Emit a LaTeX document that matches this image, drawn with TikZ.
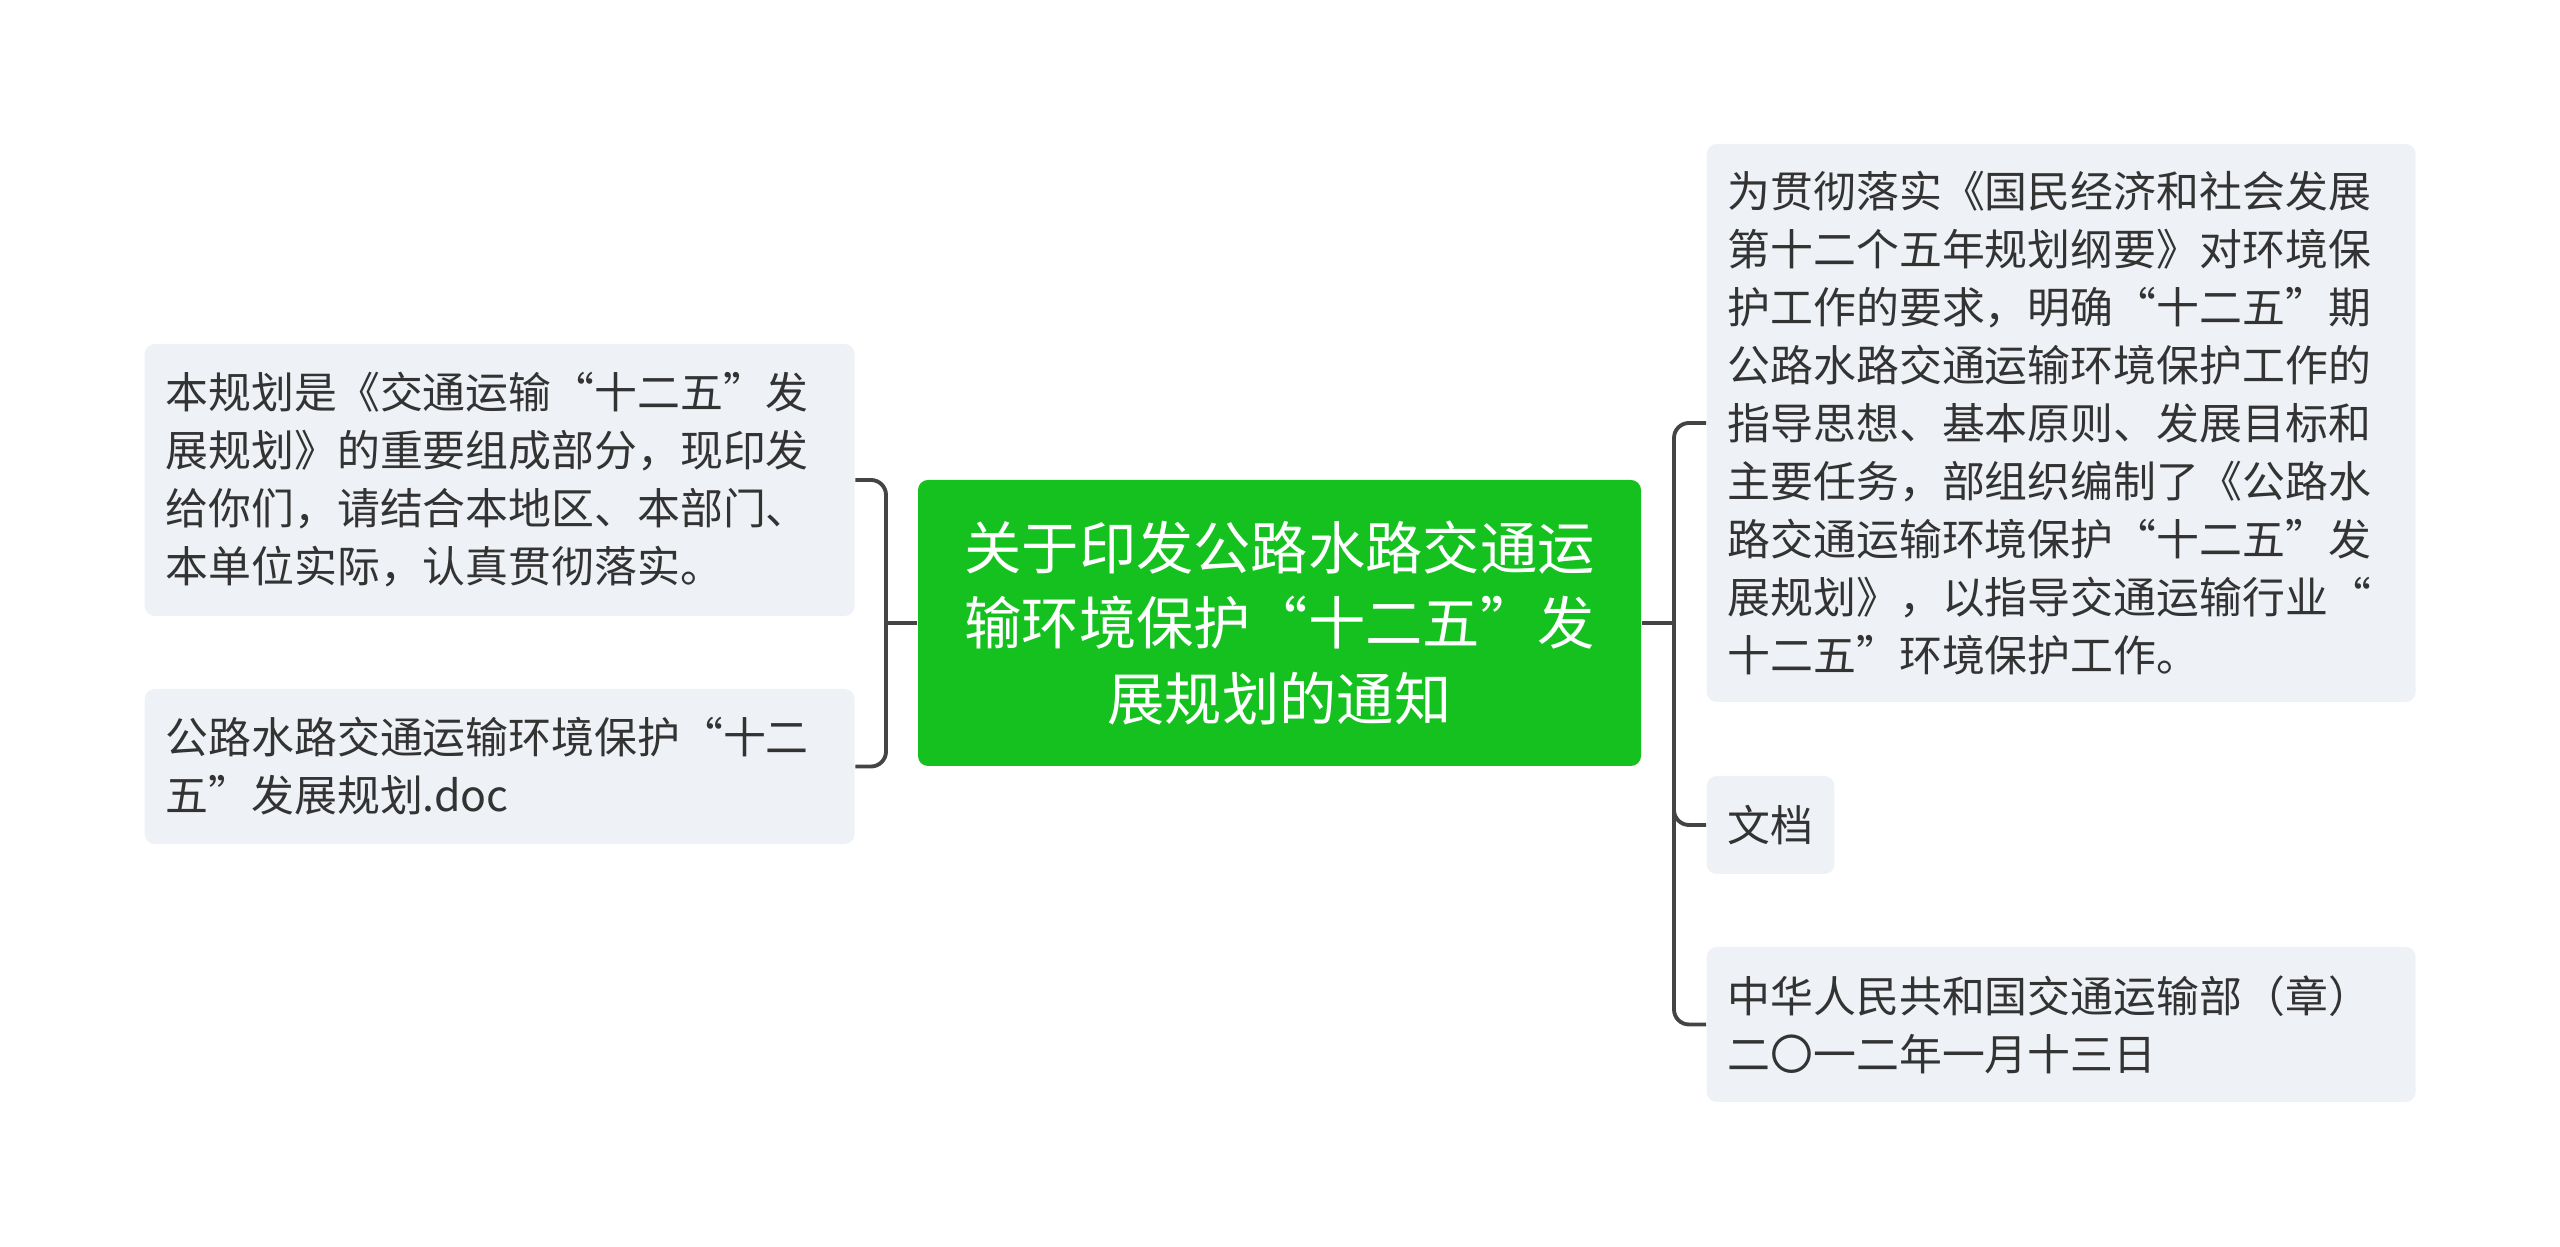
\documentclass[tikz,border=0pt]{standalone}
\usepackage{fontspec}
\setmainfont{Noto Sans CJK SC}
\definecolor{leafFill}{RGB}{238,241,245}
\definecolor{rootFill}{RGB}{20,193,31}
\definecolor{inkText}{RGB}{51,51,51}
\definecolor{linkGray}{RGB}{68,68,68}

\begin{document}
\begin{tikzpicture}[
  leaf/.style={fill=leafFill, rounded corners=0.1cm, text=inkText, font=\fontsize{12.2pt}{16.5pt}\selectfont, align=left, inner xsep=0.21cm, anchor=west},
  link/.style={draw=linkGray, line width=1.1pt, rounded corners=0.15cm},
]
\useasboundingbox (0,0) rectangle (25.6,12.47);
\node[fill=rootFill, rounded corners=0.1cm, text=white, font=\fontsize{16.3pt}{21.6pt}\selectfont, align=center, minimum width=7.23cm, minimum height=2.86cm] (root) at (12.795,6.24) {关于印发公路水路交通运\\输环境保护“十二五”发\\展规划的通知};
\node[leaf, text width=6.68cm, minimum height=2.72cm] (leftA) at (1.44,7.67) {本规划是《交通运输“十二五”发\\展规划》的重要组成部分，现印发\\给你们，请结合本地区、本部门、\\本单位实际，认真贯彻落实。};
\node[leaf, text width=6.68cm, minimum height=1.55cm] (leftB) at (1.44,4.805) {公路水路交通运输环境保护“十二\\五”发展规划.doc};
\node[leaf, text width=6.67cm, minimum height=5.58cm] (rightA) at (17.06,8.24) {为贯彻落实《国民经济和社会发展\\第十二个五年规划纲要》对环境保\\护工作的要求，明确“十二五”期\\公路水路交通运输环境保护工作的\\指导思想、基本原则、发展目标和\\主要任务，部组织编制了《公路水\\路交通运输环境保护“十二五”发\\展规划》，以指导交通运输行业“\\十二五”环境保护工作。};
\node[leaf, minimum height=0.98cm] (rightB) at (17.06,4.22) {文档};
\node[leaf, text width=6.67cm, minimum height=1.55cm] (rightC) at (17.06,2.225) {中华人民共和国交通运输部（章）\\二〇一二年一月十三日};
\coordinate (leftJoin) at (8.86,6.24);
\coordinate (rightJoin) at (16.74,6.24);
\draw[link] (root.west) -- (leftJoin);
\draw[link] (leftA.east) -| (leftJoin) |- (leftB.east);
\draw[link] (root.east) -- (rightJoin);
\draw[link] (rightA.west) -| (rightJoin) |- (rightC.west);
\draw[link] (rightJoin) |- (rightB.west);
\end{tikzpicture}
\end{document}
